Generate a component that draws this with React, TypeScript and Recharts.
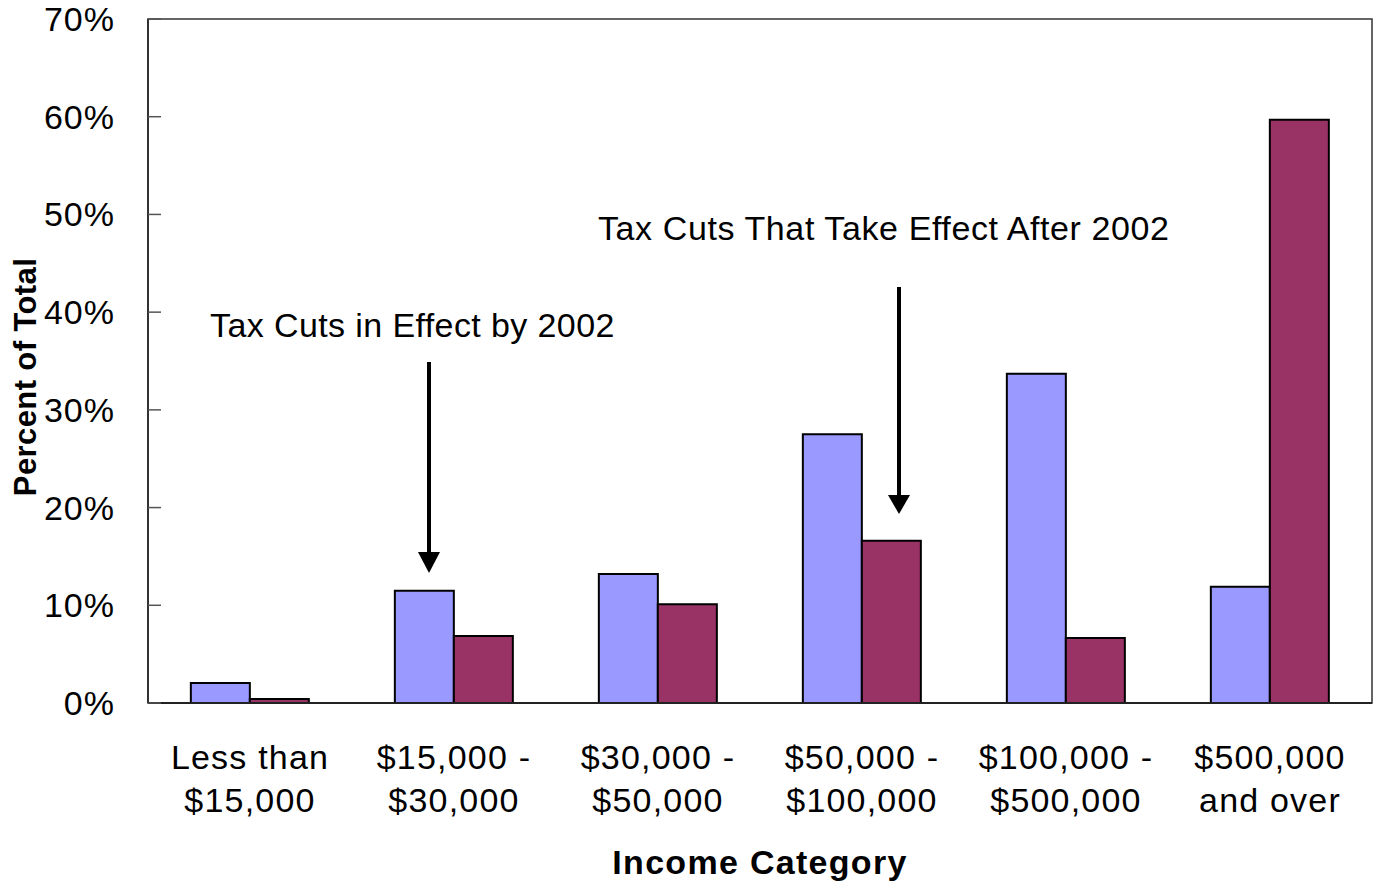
import React from "react";
import { BarChart, Bar, XAxis, YAxis, Label, ReferenceArea } from "recharts";

const categories = [
  "Less than|$15,000",
  "$15,000 -|$30,000",
  "$30,000 -|$50,000",
  "$50,000 -|$100,000",
  "$100,000 -|$500,000",
  "$500,000|and over",
];
const inEffectBy2002 = [2.05, 11.5, 13.2, 27.5, 33.7, 11.9];
const effectAfter2002 = [0.4, 6.85, 10.1, 16.6, 6.65, 59.7];
const yTicks = [0, 10, 20, 30, 40, 50, 60, 70];

const data = categories.map((c, i) => ({
  cat: c,
  a: inEffectBy2002[i],
  b: effectAfter2002[i],
}));

const FONT = "'Liberation Sans', Arial, sans-serif";

const CatTick = (props: any) => {
  const { x, y, payload } = props;
  const [l1, l2] = String(payload.value).split("|");
  return (
    <text x={x} y={y} textAnchor="middle" fontFamily={FONT} fontSize={34} letterSpacing={1.2} fill="#000">
      <tspan x={x} dy={64}>{l1}</tspan>
      <tspan x={x} dy={43}>{l2}</tspan>
    </text>
  );
};

const XTitle = (props: any) => {
  const vb = props.viewBox || {};
  const cx = vb.x + vb.width / 2;
  return (
    <text x={cx} y={874} textAnchor="middle" fontFamily={FONT} fontSize={34} fontWeight="bold" letterSpacing={1.3} fill="#000">
      Income Category
    </text>
  );
};

const YTitle = (props: any) => {
  const vb = props.viewBox || {};
  const cy = vb.y + vb.height / 2 + 16;
  return (
    <text
      x={36}
      y={cy}
      transform={`rotate(-90, 36, ${cy})`}
      textAnchor="middle"
      fontFamily={FONT}
      fontSize={31}
      fontWeight="bold"
      letterSpacing={0.4}
      fill="#000"
    >
      Percent of Total
    </text>
  );
};

export default function App() {
  return (
    <div style={{ position: "absolute", left: 0, top: 0, width: 1376, height: 882, background: "#fff" }}>
      <BarChart
        width={1376}
        height={882}
        data={data}
        margin={{ top: 19, right: 4, bottom: 0, left: 0 }}
        barCategoryGap="21%"
        barGap={0}
      >
        <ReferenceArea y1={0} y2={70} fill="none" stroke="#333" strokeWidth={1.5} ifOverflow="visible" />
        <XAxis
          dataKey="cat"
          height={179}
          tickLine={false}
          tickSize={0}
          axisLine={{ stroke: "#222", strokeWidth: 2 }}
          tick={<CatTick />}
          interval={0}
        >
          <Label content={<XTitle />} />
        </XAxis>
        <YAxis
          width={148}
          domain={[0, 70]}
          ticks={yTicks}
          interval={0}
          tickFormatter={(v: number) => `${v}%`}
          tickSize={-13}
          tickMargin={46}
          tickLine={{ stroke: "#555", strokeWidth: 1.5 }}
          axisLine={{ stroke: "#222", strokeWidth: 1.5 }}
          tick={{ fontFamily: FONT, fontSize: 34, fill: "#000", letterSpacing: 1 }}
        >
          <Label content={<YTitle />} />
        </YAxis>
        <Bar dataKey="a" fill="#9999FF" stroke="#000" strokeWidth={2} isAnimationActive={false} />
        <Bar dataKey="b" fill="#993366" stroke="#000" strokeWidth={2} isAnimationActive={false} />
      </BarChart>
      <svg
        width={1376}
        height={882}
        style={{ position: "absolute", left: 0, top: 0, pointerEvents: "none" }}
      >
        <text x={210} y={337} fontFamily={FONT} fontSize={34} letterSpacing={0.4} fill="#000">Tax Cuts in Effect by 2002</text>
        <line x1={429} y1={362} x2={429} y2={554} stroke="#000" strokeWidth={4} />
        <polygon points="418,552 440,552 429,573" fill="#000" />
        <text x={598} y={240} fontFamily={FONT} fontSize={34} letterSpacing={0.6} fill="#000">Tax Cuts That Take Effect After 2002</text>
        <line x1={899} y1={287} x2={899} y2={497} stroke="#000" strokeWidth={4} />
        <polygon points="888,495 910,495 899,514" fill="#000" />
      </svg>
    </div>
  );
}
